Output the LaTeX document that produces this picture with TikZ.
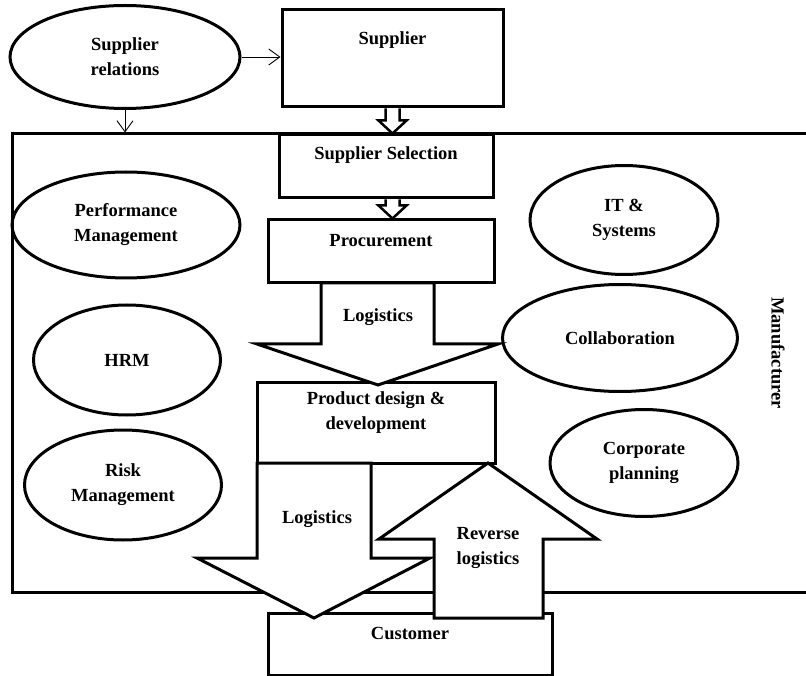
\documentclass[tikz,border=0pt]{standalone}
\usepackage{fontspec}
\setmainfont{Liberation Serif}
\usetikzlibrary{arrows,arrows.meta,positioning,shapes.geometric}
\tikzset{font=\bfseries\fontsize{18.5}{25}\selectfont}
\tikzset{every node/.append style={align=center}}
\tikzset{box/.style={draw, line width=3pt, inner sep=0pt}}
\tikzset{blob/.style={ellipse, draw, line width=3pt, inner sep=0pt}}
\tikzset{fat/.style={draw, line width=3pt, fill=white, line join=miter}}
\tikzset{hollow/.style={draw, line width=2.5pt, fill=white, line join=miter}}
\tikzset{link/.style={-{Straight Barb[length=11pt,width=16pt]}, line width=0.9pt}}

\begin{document}
\begin{tikzpicture}[x=1pt, y=-1pt]
\useasboundingbox (0,0) rectangle (806,676);
\node[box, minimum width=818pt, minimum height=458pt] (mfr) at (421,363) {};
\node[rotate=-90] (mfrT) at (778,353) {Manufacturer};

\node[blob, minimum width=230pt, minimum height=103pt] (rel) at (125,57) {Supplier\\relations};
\node[box, minimum width=221pt, minimum height=97pt] (sup) at (392.5,58.5) {};
\node (supT) at ([yshift=-32pt]sup.north) {Supplier};
\draw[link] (rel.east) -- (rel.east -| sup.west);
\draw[link] (rel.south) -- (rel.south |- mfr.north);

\node[box, minimum width=214pt, minimum height=63pt] (sel) at (386,166.5) {};
\node (selT) at ([yshift=-22pt]sel.north) {Supplier Selection};
\node[box, minimum width=226pt, minimum height=63pt] (proc) at (381,251.5) {};
\node (procT) at ([yshift=-22pt]proc.north) {Procurement};
\node[box, minimum width=238pt, minimum height=81pt] (prod) at (376,422.5) {};
\node (prodT) at ([yshift=-32.5pt]prod.north) {Product design \&\\development};
\node[box, minimum width=284pt, minimum height=62pt] (cust) at (410,644) {};
\node (custT) at ([yshift=-22pt]cust.north) {Customer};

\node[blob, minimum width=228pt, minimum height=106pt] (perf) at (126,225) {Performance\\Management};
\node[blob, minimum width=187pt, minimum height=110pt] (hrm) at (127,360) {HRM};
\node[blob, minimum width=197pt, minimum height=110pt] (risk) at (123,485) {Risk\\Management};
\node[blob, minimum width=188pt, minimum height=109pt] (its) at (624,220) {IT \&\\Systems};
\node[blob, minimum width=235pt, minimum height=107pt] (col) at (620,338) {Collaboration};
\node[blob, minimum width=188pt, minimum height=107pt] (corp) at (644,463) {Corporate\\planning};

\coordinate (t1) at (sel.north -| sup.south);
\coordinate (t2) at (proc.north -| sup.south);
\draw[hollow] ([xshift=-7pt]sup.south) |- ([xshift=-14pt,yshift=13pt]t1) -- (t1)
  -- ([xshift=14pt,yshift=13pt]t1) -| ([xshift=7pt]sup.south);
\draw[hollow] ([xshift=-7pt]sel.south -| t2) |- ([xshift=-14pt,yshift=13pt]t2) -- (t2)
  -- ([xshift=14pt,yshift=13pt]t2) -| ([xshift=7pt]sel.south -| t2);

\draw[fat] (321,283) -- (321,344) -- (257,344) -- (378,385) -- (498,344) -- (434,344) -- (434,283) -- cycle;
\node (logA) at (378,317) {Logistics};
\draw[fat] (257,463) -- (257,558) -- (197,558) -- (314,618) -- (430,558) -- (371,558) -- (371,463) -- cycle;
\node (logB) at (317,519) {Logistics};
\draw[fat] (434,618) -- (434,539) -- (379,539) -- (488,463) -- (597,539) -- (543,539) -- (543,618) -- cycle;
\node (rev) at (488,547.5) {Reverse\\logistics};
\end{tikzpicture}
\end{document}
